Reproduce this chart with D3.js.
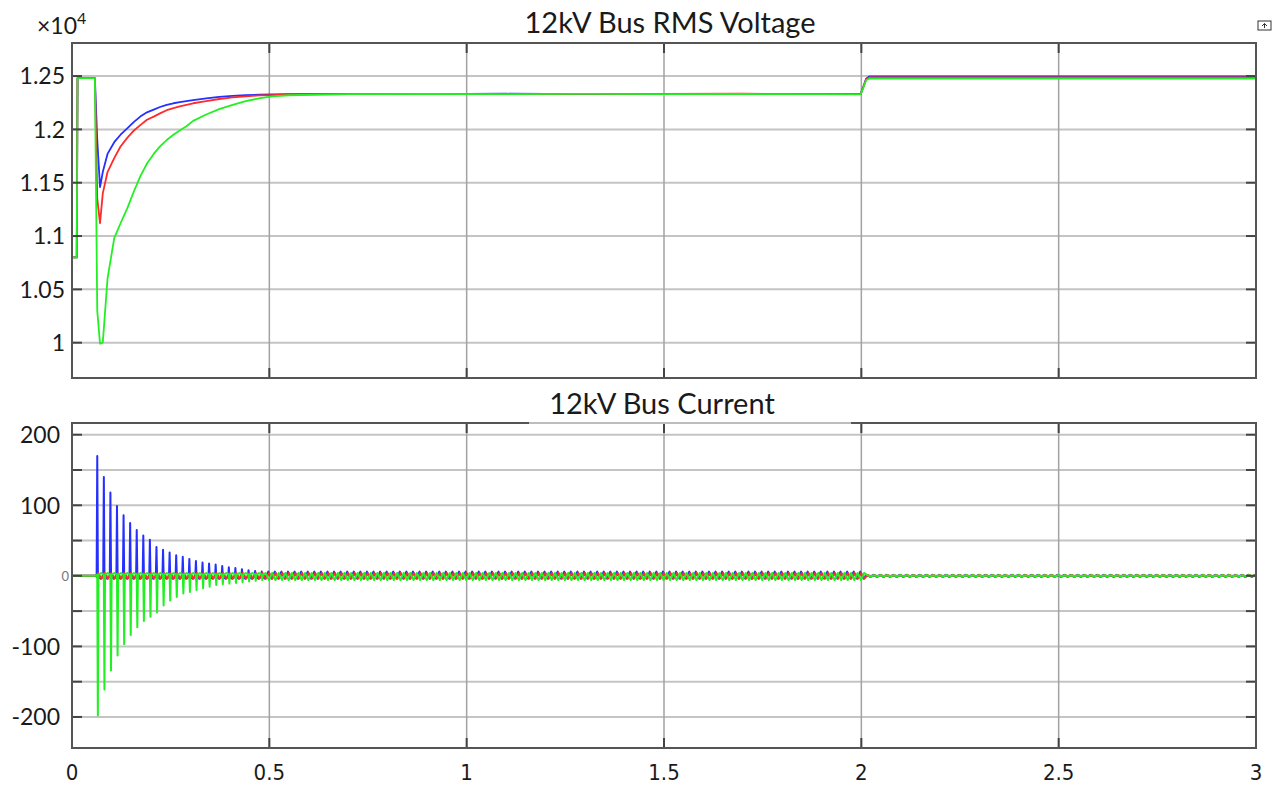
<!DOCTYPE html>
<html>
<head>
<meta charset="utf-8">
<script src="https://cdn.jsdelivr.net/npm/d3@7/dist/d3.min.js"></script>
<style>
body { margin: 0; background: #fff; }
text { font-family: Lato, "Open Sans", sans-serif; fill: #1a1a1a; }
</style>
</head>
<body>
<script>
// ---- data ----
// voltage (V)
var voltTime = [0, 0.012, 0.014, 0.058, 0.064, 0.071, 0.078, 0.09, 0.107, 0.123,
	0.14, 0.157, 0.173, 0.19, 0.207, 0.223, 0.24, 0.257, 0.273, 0.29,
	0.307, 0.34, 0.373, 0.407, 0.44, 0.473, 0.507, 0.55, 0.7, 0.9,
	1.1, 1.3, 1.5, 1.7, 1.9, 1.998, 2.005, 2.012, 2.02, 3.0];
var voltBlue = [10800, 10800, 12480, 12480, 11900, 11460, 11600, 11770, 11880, 11950,
	12010, 12070, 12120, 12160, 12185, 12210, 12230, 12245, 12255, 12265,
	12275, 12290, 12305, 12315, 12320, 12325, 12328, 12330, 12333, 12330,
	12334, 12331, 12333, 12330, 12332, 12330, 12400, 12475, 12497, 12497];
var voltRed = [10800, 10800, 12480, 12480, 11350, 11120, 11400, 11600, 11730, 11840,
	11920, 11990, 12040, 12090, 12120, 12150, 12180, 12200, 12215, 12230,
	12245, 12265, 12285, 12300, 12310, 12318, 12322, 12328, 12332, 12333,
	12331, 12333, 12332, 12334, 12331, 12331, 12395, 12468, 12487, 12487];
var voltGreen = [10800, 10800, 12480, 12480, 10300, 9990, 10000, 10600, 10980, 11120,
	11260, 11420, 11560, 11680, 11770, 11840, 11900, 11950, 11990, 12030,
	12080, 12140, 12190, 12230, 12265, 12290, 12310, 12320, 12330, 12332,
	12330, 12333, 12331, 12332, 12330, 12329, 12390, 12460, 12477, 12477];

// current (A): one spike per 60 Hz cycle, then a small ripple
var period = 1 / 60;
var spikeStart = [0.064, 0.066, 0.0655];   // blue, red, green
var bluePeaks = [170, 140, 118, 99, 86, 75, 65, 57, 51, 41, 37, 33, 29,
	27, 24, 21, 19, 17.5, 16, 14, 12, 11, 9.5, 8, 7, 6];
var redPeaks = [];
var greenPeaks = [-198, -161, -134, -113, -97, -84, -73, -64, -58, -52, -42, -35, -30,
	-25, -23, -20, -17.5, -15.5, -13, -12, -11, -10, -9, -8, -7, -6];
var rippleA = [6, 4, -6];       // ripple extreme on spike side
var rippleB = [-4, -4, 4];      // ripple extreme on other side
var rippleTail = [1.4, 1.2, 1.0]; // after the 2 s event

var xTicks = [0, 0.5, 1, 1.5, 2, 2.5, 3];
var vTicks = [10000, 10500, 11000, 11500, 12000, 12500];
var iTicks = [-200, -150, -100, -50, 0, 50, 100, 150, 200];
var iLabels = [-200, -100, 100, 200];

var colors = ["#2430ff", "#ff2a2a", "#22f022"];

// ---- layout ----
var w = 1281, h = 789;
var left = 72, right = 1256;
var topV = 43, botV = 378;
var topI = 423, botI = 748;

var svg = d3.select("body").append("svg")
	.attr("width", w)
	.attr("height", h);

var x = d3.scaleLinear().domain([0, 3]).range([left, right]);
var yV = d3.scaleLinear().domain([9669, 12810]).range([botV, topV]);
var yI = d3.scaleLinear().domain([-244, 216.6]).range([botI, topI]);

function grid(g, y0, y1, yScale, yVals) {
	g.selectAll(".hg").data(yVals).enter().append("line")
		.attr("x1", left).attr("x2", right)
		.attr("y1", function(d) { return yScale(d); })
		.attr("y2", function(d) { return yScale(d); })
		.attr("stroke", "#c4c4c4").attr("stroke-width", 2);
	g.selectAll(".vg").data(xTicks.slice(1, -1)).enter().append("line")
		.attr("x1", function(d) { return x(d); })
		.attr("x2", function(d) { return x(d); })
		.attr("y1", y0).attr("y2", y1)
		.attr("stroke", "#a2a2a2").attr("stroke-width", 1.5);
}

function frame(g, y0, y1, yScale, yVals) {
	// inward ticks on all four sides
	var tk = 10;
	yVals.forEach(function(d) {
		g.append("line").attr("x1", left).attr("x2", left + tk)
			.attr("y1", yScale(d)).attr("y2", yScale(d))
			.attr("stroke", "#444").attr("stroke-width", 2);
		g.append("line").attr("x1", right - tk).attr("x2", right)
			.attr("y1", yScale(d)).attr("y2", yScale(d))
			.attr("stroke", "#444").attr("stroke-width", 2);
	});
	xTicks.forEach(function(d) {
		g.append("line").attr("x1", x(d)).attr("x2", x(d))
			.attr("y1", y0).attr("y2", y0 + tk)
			.attr("stroke", "#444").attr("stroke-width", 2);
		g.append("line").attr("x1", x(d)).attr("x2", x(d))
			.attr("y1", y1 - tk).attr("y2", y1)
			.attr("stroke", "#444").attr("stroke-width", 2);
	});
	g.append("rect")
		.attr("x", left).attr("y", y0)
		.attr("width", right - left).attr("height", y1 - y0)
		.attr("fill", "none").attr("stroke", "#555").attr("stroke-width", 2);
}

svg.append("clipPath").attr("id", "clipV").append("rect")
	.attr("x", left).attr("y", topV).attr("width", right - left).attr("height", botV - topV);
svg.append("clipPath").attr("id", "clipI").append("rect")
	.attr("x", left).attr("y", topI).attr("width", right - left).attr("height", botI - topI);

// ---- voltage panel ----
var gV = svg.append("g");
grid(gV, topV, botV, yV, vTicks);

var lineV = d3.line()
	.x(function(d) { return x(d[0]); })
	.y(function(d) { return yV(d[1]); });

[voltBlue, voltRed, voltGreen].forEach(function(vals, k) {
	gV.append("path")
		.datum(voltTime.map(function(t, i) { return [t, vals[i]]; }))
		.attr("clip-path", "url(#clipV)")
		.attr("fill", "none")
		.attr("stroke", colors[k])
		.attr("stroke-width", 1.8)
		.attr("stroke-linejoin", "round")
		.attr("d", lineV);
});
frame(gV, topV, botV, yV, vTicks);

gV.selectAll(".vl").data(vTicks).enter().append("text")
	.attr("x", left - 7)
	.attr("y", function(d) { return yV(d); })
	.attr("dy", "0.36em")
	.attr("text-anchor", "end")
	.style("font-size", "23px")
	.text(function(d) { return d3.format("")(d / 10000); });

var mult = svg.append("text").attr("x", 37).attr("y", 34).style("font-size", "23px");
mult.append("tspan").text("\u00d710");
mult.append("tspan").attr("dy", -10).style("font-size", "16px").text("4");

svg.append("text")
	.attr("x", 670).attr("y", 33)
	.attr("text-anchor", "middle")
	.style("font-size", "29px")
	.text("12kV Bus RMS Voltage");

// little scope icon top-right
svg.append("rect").attr("x", 1258).attr("y", 21).attr("width", 13).attr("height", 9)
	.attr("fill", "none").attr("stroke", "#333").attr("stroke-width", 1);
svg.append("path").attr("d", "M1264.5,28 V23.5 M1262,26 L1264.5,23.5 L1267,26")
	.attr("fill", "none").attr("stroke", "#333").attr("stroke-width", 1);

// ---- current panel ----
function phasePoints(k, spikes) {
	var pts = [[0, 0], [spikeStart[k] - 0.004, 0]];
	var t = spikeStart[k];
	for (var i = 0; t < 2.0; i++, t = spikeStart[k] + i * period) {
		if (i < spikes.length) {
			pts.push([t - 0.0016, rippleB[k] * 0.4], [t, spikes[i]],
				[t + 0.0016, rippleB[k] * 0.4], [t + period / 2, rippleB[k]]);
		} else {
			pts.push([t, rippleA[k]], [t + period / 2, rippleB[k]]);
		}
	}
	for (; t < 3.0; t += period) {
		pts.push([t, rippleTail[k]], [t + period / 2, -rippleTail[k]]);
	}
	return pts;
}

var gI = svg.append("g");
grid(gI, topI, botI, yI, iTicks);

var lineI = d3.line()
	.x(function(d) { return x(d[0]); })
	.y(function(d) { return yI(d[1]); });

[bluePeaks, redPeaks, greenPeaks].forEach(function(sp, k) {
	gI.append("path")
		.datum(phasePoints(k, sp))
		.attr("clip-path", "url(#clipI)")
		.attr("fill", "none")
		.attr("stroke", colors[k])
		.attr("stroke-width", 2)
		.attr("stroke-linejoin", "round")
		.attr("d", lineI);
});
frame(gI, topI, botI, yI, iTicks);

gI.selectAll(".il").data(iLabels).enter().append("text")
	.attr("x", left - 12)
	.attr("y", function(d) { return yI(d); })
	.attr("dy", "0.36em")
	.attr("text-anchor", "end")
	.style("font-size", "23px")
	.text(function(d) { return d; });
gI.append("text")
	.attr("x", left - 3).attr("y", yI(0)).attr("dy", "0.36em")
	.attr("text-anchor", "end")
	.style("font-size", "13px").style("fill", "#777")
	.text("0");

// title box over the current panel
svg.append("rect").attr("x", 529).attr("y", 386).attr("width", 322).attr("height", 36)
	.attr("fill", "#fff");
svg.append("line").attr("x1", 529).attr("x2", 851).attr("y1", topI).attr("y2", topI)
	.attr("stroke", "#bdbdbd").attr("stroke-width", 2);
svg.append("text")
	.attr("x", 662).attr("y", 414)
	.attr("text-anchor", "middle")
	.style("font-size", "29px")
	.text("12kV Bus Current");

// x tick labels
svg.selectAll(".xl").data(xTicks).enter().append("text")
	.attr("x", function(d) { return x(d); })
	.attr("y", 780)
	.attr("text-anchor", "middle")
	.style("font-family", "'Liberation Sans Narrow', 'DejaVu Sans Condensed', sans-serif")
	.style("font-size", "22px")
	.text(function(d) { return d; });
</script>
</body>
</html>
